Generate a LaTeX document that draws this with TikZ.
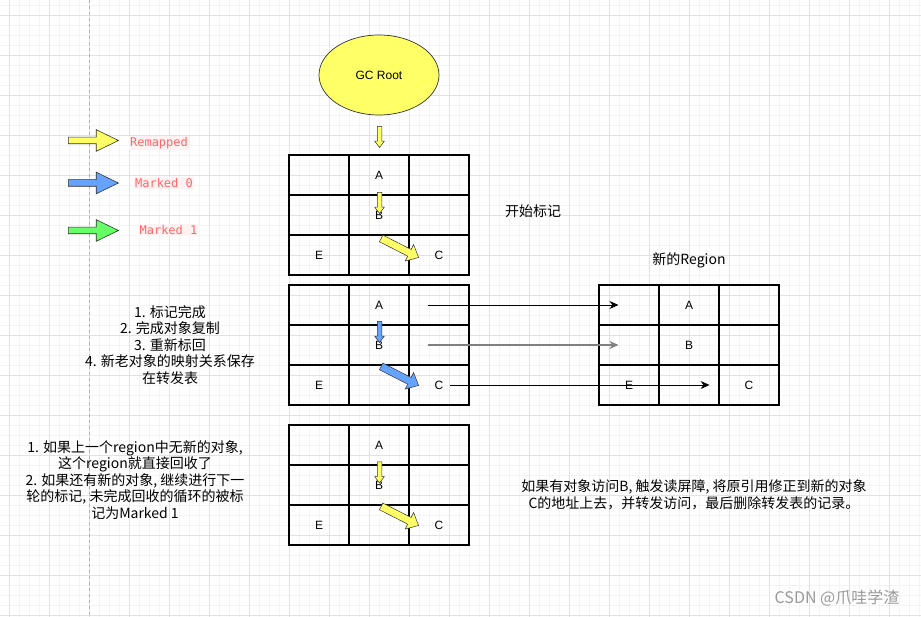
\documentclass[tikz,border=0pt]{standalone}
\usepackage{fontspec}
\setmainfont{Liberation Sans}
\newfontfamily\cjk{Noto Sans CJK SC}
\newfontfamily\legendfont{DejaVu Sans Mono}
\usetikzlibrary{arrows.meta, shapes.geometric, shapes.arrows, calc}

\definecolor{gcyellow}{HTML}{FFFF66}
\definecolor{gcblue}{HTML}{66A3FF}
\definecolor{gcgreen}{HTML}{66FF66}
\definecolor{legendred}{HTML}{FF6666}
\definecolor{legendbg}{HTML}{FFF2F2}
\definecolor{minorline}{HTML}{F4F4F4}
\definecolor{majorline}{HTML}{E2E2E2}

\begin{document}
\begin{tikzpicture}[x=1pt, y=-1pt,
  cell/.style={draw, rectangle, line width=1.1pt, minimum width=60pt, minimum height=40pt, inner sep=0pt},
  lbl/.style={font=\fontsize{12}{14}\selectfont, inner sep=1pt},
  note/.style={font=\cjk\fontsize{14}{16.5}\selectfont, align=center, inner sep=0pt},
  legendtxt/.style={font=\legendfont\fontsize{12}{14}\selectfont, text=legendred, fill=legendbg, inner sep=1pt},
  flagarrow/.style={single arrow, draw=black!80, line width=0.6pt, minimum height=50pt, minimum width=21pt, inner xsep=0pt, inner ysep=3pt, single arrow head extend=7.5pt, single arrow tip angle=52},
  tinyarrow/.style={single arrow, draw=black!80, line width=0.5pt, fill=#1, minimum height=21pt, minimum width=9pt, inner xsep=0pt, inner ysep=2pt, single arrow head extend=2.5pt, single arrow tip angle=74, rotate=-90},
  slantarrow/.style={single arrow, draw=black!80, line width=0.5pt, fill=#1, minimum height=42pt, minimum width=18pt, inner xsep=0pt, inner ysep=3.5pt, single arrow head extend=5.5pt, single arrow tip angle=84, rotate=-27},
  link/.style={-{Stealth[length=9pt, width=8pt]}, line width=0.9pt}
]
  % page and grid paper
  \useasboundingbox[fill=white] (0,0) rectangle (921,617);
  \foreach \i in {0,...,91} \draw[minorline, line width=0.6pt] (9+10*\i,0) -- (9+10*\i,617);
  \foreach \i in {0,...,61} \draw[minorline, line width=0.6pt] (0,5+10*\i) -- (921,5+10*\i);
  \foreach \i in {0,...,22} \draw[majorline, line width=0.8pt] (9+40*\i,0) -- (9+40*\i,617);
  \foreach \i in {0,...,15} \draw[majorline, line width=0.8pt] (0,15+40*\i) -- (921,15+40*\i);
  \draw[black!30, dashed, dash pattern=on 3pt off 3pt] (89,0) -- (89,617);

  % legend
  \node[flagarrow, fill=gcyellow] (flagremap) at (90,140.5) {};
  \node[flagarrow, fill=gcblue]   (flagzero)  at (90,183)   {};
  \node[flagarrow, fill=gcgreen]  (flagone)   at (90,230.5) {};
  \node[legendtxt] (remapped) at (159,143)   {Remapped};
  \node[legendtxt] (marked0)  at (164,183)   {Marked 0};
  \node[legendtxt] (marked1)  at (168.5,230) {Marked 1};

  \node[ellipse, draw=black!80, line width=0.7pt, fill=gcyellow, minimum width=120pt, minimum height=80pt, font=\fontsize{12}{14}\selectfont] (root) at (379,75) {GC Root};

  % the four regions, 3 x 3 cells each
  \foreach \g/\gx/\gy in {1/289/155, 2/289/285, 3/289/425, 4/599/285} {
    \foreach \r in {1,2,3} {
      \foreach \c in {1,2,3} {
        \node[cell] (g\g-\r\c) at (\gx+60*\c-30, \gy+40*\r-20) {};
      }
    }
  }
  \foreach \g in {1,...,4} {
    \node[lbl] (A\g) at (g\g-12) {A};
    \node[lbl] (B\g) at (g\g-22) {B};
    \node[lbl] (E\g) at (g\g-31) {E};
    \node[lbl] (C\g) at (g\g-33) {C};
  }

  \node[tinyarrow=gcyellow] (rootarrow) at (379.5,135.5) {};
  \node[tinyarrow=gcyellow] (down1) at (379.5,201.5) {};
  \node[tinyarrow=gcblue]   (down2) at (379.5,330.5) {};
  \node[tinyarrow=gcyellow] (down3) at (379.5,471)   {};
  \node[slantarrow=gcyellow] (slant1) at (398,247) {};
  \node[slantarrow=gcblue]   (slant2) at (398,375) {};
  \node[slantarrow=gcyellow] (slant3) at (398,515) {};

  % forwarding to the new region
  \draw[link] ([xshift=20pt]g2-13.west) -- ([xshift=20pt]g4-11.west);
  \draw[link, draw=gray, line width=2pt] ([xshift=20pt]g2-23.west) -- ([xshift=20pt]g4-21.west);
  \draw[link] ([xshift=11pt]g2-33.center) -- ([xshift=-10pt]g4-32.east);

  \node[note] (startmark) at (533,211) {开始标记};
  \node[note] (newregion) at (689,260) {新的Region};
  \node[note] (steps) at (170,345) {1. 标记完成\\2. 完成对象复制\\3. 重新标回\\4. 新老对象的映射关系保存\\在转发表};
  \node[note] (recycle) at (135,480) {1. 如果上一个region中无新的对象,\\这个region就直接回收了\\2. 如果还有新的对象, 继续进行下一\\轮的标记, 未完成回收的循环的被标\\记为Marked 1};
  \node[note] (barrier) at (694,495) {如果有对象访问B, 触发读屏障, 将原引用修正到新的对象\\C的地址上去，并转发访问，最后删除转发表的记录。};
  \node[note, font=\cjk\fontsize{16}{18}\selectfont, text=black!40] (mark) at (837,598) {CSDN @爪哇学渣};
\end{tikzpicture}
\end{document}
